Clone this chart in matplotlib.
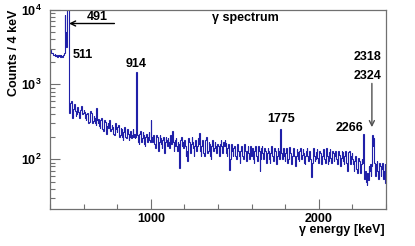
import numpy as np
import matplotlib
matplotlib.use('Agg')
import matplotlib.pyplot as plt
from matplotlib.ticker import FixedLocator, LogLocator, NullFormatter

plt.rcParams['font.family'] = ['Liberation Sans', 'DejaVu Sans']
plt.rcParams['font.weight'] = 'bold'
plt.rcParams['mathtext.fontset'] = 'custom'
plt.rcParams['mathtext.rm'] = 'Liberation Sans:bold'
plt.rcParams['mathtext.bf'] = 'Liberation Sans:bold'

# histogramme 400 - 2400 keV, bins de 4 keV
e_min = 400
e_max = 2400
largeur_bin = 4

contagens = [
    2850, 2700, 2600, 2650, 2550, 2500, 2450, 2550, 2400, 2500, 2450, 2350, 2500, 2400, 2450, 2300, 2450, 2400, 2350, 2450, 2500, 2600, 8400, 5000, 3200,
    12000, 50000, 30000, 780, 420, 560, 600, 380, 360, 470, 520, 540, 440, 380, 400, 500, 470, 430, 350, 380, 450, 520, 480, 400, 420,
    460, 430, 350, 330, 400, 420, 380, 300, 310, 360, 440, 420, 340, 300, 320, 380, 360, 300, 290, 480, 330, 300, 340, 280, 260,
    330, 350, 290, 250, 240, 300, 330, 310, 240, 220, 280, 300, 260, 330, 300, 240, 250, 290, 270, 220, 210, 280, 300, 250, 230,
    270, 290, 230, 200, 210, 260, 250, 200, 180, 230, 270, 260, 200, 190, 240, 250, 220, 180, 200, 240, 230, 190, 210, 250, 200,
    220, 190, 200, 1450, 230, 210, 170, 160, 220, 240, 200, 170, 190, 230, 210, 160, 150, 200, 220, 190, 170, 200, 230, 180, 170,
    335, 200, 170, 190, 210, 160, 140, 180, 210, 200, 150, 130, 170, 210, 190, 160, 140, 180, 200, 150, 120, 170, 200, 180, 150,
    190, 170, 140, 200, 210, 160, 190, 235, 170, 130, 150, 180, 190, 150, 130, 170, 160, 76, 110, 180, 200, 150, 170, 140, 160,
    180, 150, 110, 130, 95, 150, 190, 170, 130, 120, 160, 200, 170, 140, 110, 150, 180, 160, 130, 150, 190, 160, 226, 130, 110,
    150, 180, 160, 120, 110, 150, 180, 200, 150, 120, 130, 170, 160, 110, 100, 150, 180, 160, 130, 140, 170, 150, 120, 140, 160,
    150, 120, 110, 160, 180, 150, 120, 130, 170, 150, 180, 165, 120, 110, 140, 160, 130, 72, 100, 150, 160, 130, 110, 140, 150,
    140, 110, 100, 150, 160, 130, 110, 90, 130, 150, 140, 110, 100, 140, 160, 130, 100, 95, 130, 150, 120, 100, 140, 150, 110,
    120, 140, 100, 90, 130, 150, 140, 110, 95, 120, 150, 130, 70, 100, 140, 150, 120, 100, 110, 140, 130, 100, 90, 120, 140,
    130, 100, 90, 120, 150, 130, 110, 95, 120, 140, 130, 100, 85, 110, 140, 130, 100, 120, 252, 120, 100, 130, 140, 110, 95,
    120, 140, 110, 90, 100, 130, 145, 120, 95, 85, 110, 130, 140, 110, 90, 80, 110, 135, 125, 100, 95, 130, 140, 110, 100,
    115, 135, 120, 90, 85, 110, 130, 140, 110, 95, 120, 130, 100, 80, 58, 90, 130, 140, 110, 95, 100, 125, 135, 105, 90,
    110, 130, 120, 95, 85, 110, 135, 125, 100, 90, 115, 140, 110, 85, 95, 125, 135, 105, 90, 100, 130, 120, 95, 110, 130,
    120, 100, 85, 110, 130, 115, 90, 80, 105, 130, 125, 95, 85, 110, 130, 120, 90, 70, 95, 125, 130, 100, 85, 110, 120,
    100, 85, 70, 95, 110, 90, 75, 65, 90, 105, 95, 75, 65, 85, 100, 90, 215, 95, 55, 70, 50, 45, 65, 52, 80,
    70, 85, 60, 80, 212, 150, 190, 90, 75, 60, 85, 95, 70, 55, 70, 90, 80, 60, 75, 90, 60, 55, 70, 85, 48,
]

bordas = np.arange(e_min, e_max + largeur_bin, largeur_bin)
azul = '#2020a8'
cinza = '#707070'
W, H = 415, 246

fig = plt.figure(figsize=(W / 100, H / 100), dpi=100)
ax = fig.add_axes([50 / W, 1 - 209 / H, 336 / W, 199.5 / H])

ax.stairs(contagens, bordas, color=azul, linewidth=0.8, baseline=None)

ax.set_yscale('log')
ax.set_xlim(e_min, e_max)
ax.set_ylim(21.6, 10000)

ax.xaxis.set_major_locator(FixedLocator([1000, 2000]))
ax.xaxis.set_minor_locator(FixedLocator(list(range(400, 2401, 200))))
ax.set_xticklabels(['1000', '2000'])
ax.yaxis.set_major_locator(FixedLocator([100, 1000, 10000]))
ax.yaxis.set_minor_locator(LogLocator(base=10, subs=range(2, 10)))
ax.yaxis.set_minor_formatter(NullFormatter())
ax.set_yticklabels([r'$\mathbf{10^{2}}$', r'$\mathbf{10^{3}}$', r'$\mathbf{10^{4}}$'])

ax.tick_params(which='both', direction='in', color=cinza, width=0.8, labelsize=9,
               top=False, right=False)
ax.tick_params(which='major', length=7.2)
ax.tick_params(which='minor', length=3.6)
ax.tick_params(axis='y', pad=6)
ax.tick_params(axis='x', pad=3)
for s in ax.spines.values():
    s.set_color(cinza)
    s.set_linewidth(0.9)

fig.text(385 / W, 1 - 224 / H, 'γ energy [keV]', ha='right', va='top', fontsize=9, fontweight='bold')
fig.text(8 / W, 1 - 10 / H, 'Counts / 4 keV', rotation=90, ha='left', va='top', fontsize=9, fontweight='bold')
fig.text(245 / W, 1 - 17.5 / H, 'γ spectrum', ha='center', va='center', fontsize=9, fontweight='bold')

# anotacoes dos picos
ax.annotate('', xy=(497, 6500), xytext=(800, 6500),
            arrowprops=dict(arrowstyle='->', color='black', lw=1.0, mutation_scale=9))
ax.text(679, 8040, '491', ha='center', va='center', fontsize=9, fontweight='bold')
ax.text(537, 2480, '511', ha='left', va='center', fontsize=9, fontweight='bold')
ax.text(911, 1890, '914', ha='center', va='center', fontsize=9, fontweight='bold')
ax.text(1775, 345, '1775', ha='center', va='center', fontsize=9, fontweight='bold')
ax.text(2266, 262, '2266', ha='right', va='center', fontsize=9, fontweight='bold')
ax.text(2290, 2300, '2318', ha='center', va='center', fontsize=9, fontweight='bold')
ax.text(2290, 1300, '2324', ha='center', va='center', fontsize=9, fontweight='bold')
ax.annotate('', xy=(2316, 246), xytext=(2316, 1120),
            arrowprops=dict(arrowstyle='->', color='#505050', lw=1.0, mutation_scale=9))

fig.savefig('out.png', dpi=100)
